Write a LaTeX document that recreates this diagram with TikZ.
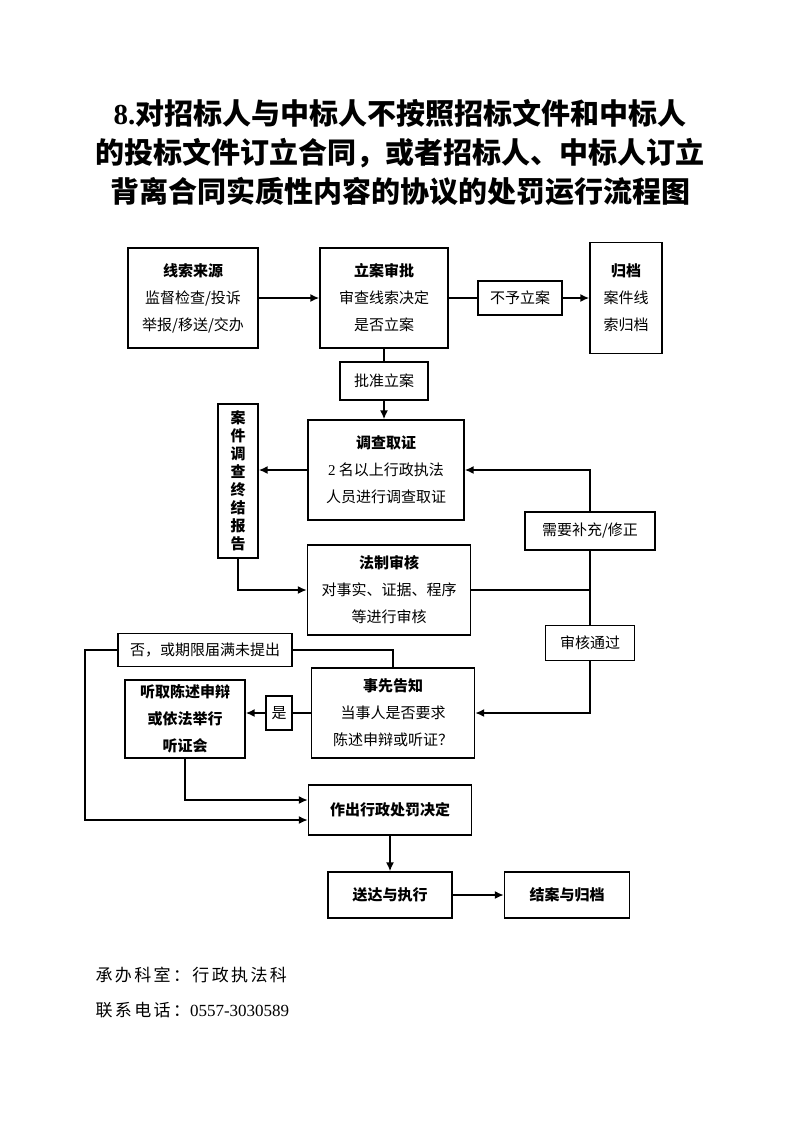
\documentclass[tikz,border=0pt]{standalone}
\usepackage{fontspec}
\setmainfont{Liberation Serif}
\newfontfamily\cjk{Noto Sans CJK SC}
\usetikzlibrary{arrows.meta}

\tikzset{
  box/.style={draw, line width=1.3pt, inner sep=0pt, align=center,
    font=\cjk\fontsize{15}{27}\selectfont},
  link/.style={line width=1.8pt},
  flow/.style={line width=1.8pt, -{Latex[length=9pt,width=8pt]}},
  foot/.style={anchor=west, font=\cjk\fontsize{17}{20}\selectfont\addfontfeatures{LetterSpace=14}},
}

\begin{document}
\begin{tikzpicture}[x=1pt, y=-1pt]
		\useasboundingbox (0,0) rectangle (793,1122);

		% Title
		\node (title) at (400,153) [align=center, font=\fontsize{29}{39}\selectfont\bfseries]
			{{\rmfamily 8.}{\cjk 对招标人与中标人不按照招标文件和中标人}\\
			 {\cjk 的投标文件订立合同，或者招标人、中标人订立}\\
			 {\cjk 背离合同实质性内容的协议的处罚运行流程图}};

		% Top row
		\node[box, minimum width=130pt, minimum height=100pt] (src) at (193,298)
			{{\bfseries 线索来源}\\监督检查/投诉\\举报/移送/交办};
		\node[box, minimum width=128pt, minimum height=100pt] (approve) at (384,298)
			{{\bfseries 立案审批}\\审查线索决定\\是否立案};
		\node[box, minimum width=84pt, minimum height=34pt] (noreg) at (520,298) {不予立案};
		\node[box, minimum width=72pt, minimum height=111pt] (arch) at (626,298)
			{{\bfseries 归档}\\案件线\\索归档};

		% Investigation
		\node[box, minimum width=88pt, minimum height=38pt] (okreg) at (384,381) {批准立案};
		\node[box, minimum width=156pt, minimum height=100pt] (invest) at (386,470)
			{{\bfseries 调查取证}\\{\rmfamily 2} 名以上行政执法\\人员进行调查取证};
		\node[box, minimum width=40pt, minimum height=154pt,
			font=\cjk\fontsize{15}{18}\selectfont\bfseries] (report) at (238,481)
			{案\\件\\调\\查\\终\\结\\报\\告};

		% Legal review
		\node[box, minimum width=163pt, minimum height=90pt] (review) at (389,590)
			{{\bfseries 法制审核}\\对事实、证据、程序\\等进行审核};
		\node[box, minimum width=130pt, minimum height=38pt] (supp) at (590,531) {需要补充/修正};
		\node[box, minimum width=89pt, minimum height=35pt] (pass) at (590,643) {审核通过};

		% Prior notice
		\node[box, minimum width=163pt, minimum height=90pt] (notice) at (393,713)
			{{\bfseries 事先告知}\\当事人是否要求\\陈述申辩或听证？};
		\node[box, minimum width=26pt, minimum height=34pt] (yes) at (279,713) {是};
		\node[box, minimum width=120pt, minimum height=78pt] (hear) at (185,719)
			{\bfseries 听取陈述申辩\\\bfseries 或依法举行\\\bfseries 听证会};
		\node[box, minimum width=174pt, minimum height=33pt] (nope) at (205,650) {否，或期限届满未提出};

		% Decision and closing
		\node[box, minimum width=163pt, minimum height=50pt] (decide) at (390,810)
			{\bfseries 作出行政处罚决定};
		\node[box, minimum width=124pt, minimum height=46pt] (deliver) at (390,895)
			{\bfseries 送达与执行};
		\node[box, minimum width=125pt, minimum height=46pt] (close) at (567,895)
			{\bfseries 结案与归档};

		% Footer
		\node[foot] (dept) at (92,975) {承办科室：行政执法科};
		\node[foot] (tel) at (92,1010) {联系电话：{\rmfamily 0557-3030589}};

		% Connectors
		\draw[flow] (src.east) -- (approve.west);
		\draw[link] (approve.east) -- (noreg.west);
		\draw[flow] (noreg.east) -- (arch.west);
		\draw[link] (approve.south) -- (okreg.north);
		\draw[flow] (okreg.south) -- (okreg.south |- invest.north);
		\draw[flow] (invest.west) -- (invest.west -| report.east);
		\draw[flow] (report.south) |- (review.west);
		\draw[link] (review.east) -- (review.east -| supp.south);
		\draw[link] (supp.south) -- (pass.north);
		\draw[flow] (supp.north) |- (invest.east);
		\draw[flow] (pass.south) |- (notice.east);
		\draw[link] (notice.west) -- (yes.east);
		\draw[flow] (yes.west) -- (yes.west -| hear.east);
		\draw[link] (notice.north) |- (nope.east);
		\coordinate (bend) at (85,650);
		\draw[flow] (nope.west) -- (bend) |- ([yshift=-10pt]decide.west);
		\draw[flow] (hear.south) |- ([yshift=10pt]decide.west);
		\draw[flow] (decide.south) -- (deliver.north);
		\draw[flow] (deliver.east) -- (close.west);
	\end{tikzpicture}
\end{document}
